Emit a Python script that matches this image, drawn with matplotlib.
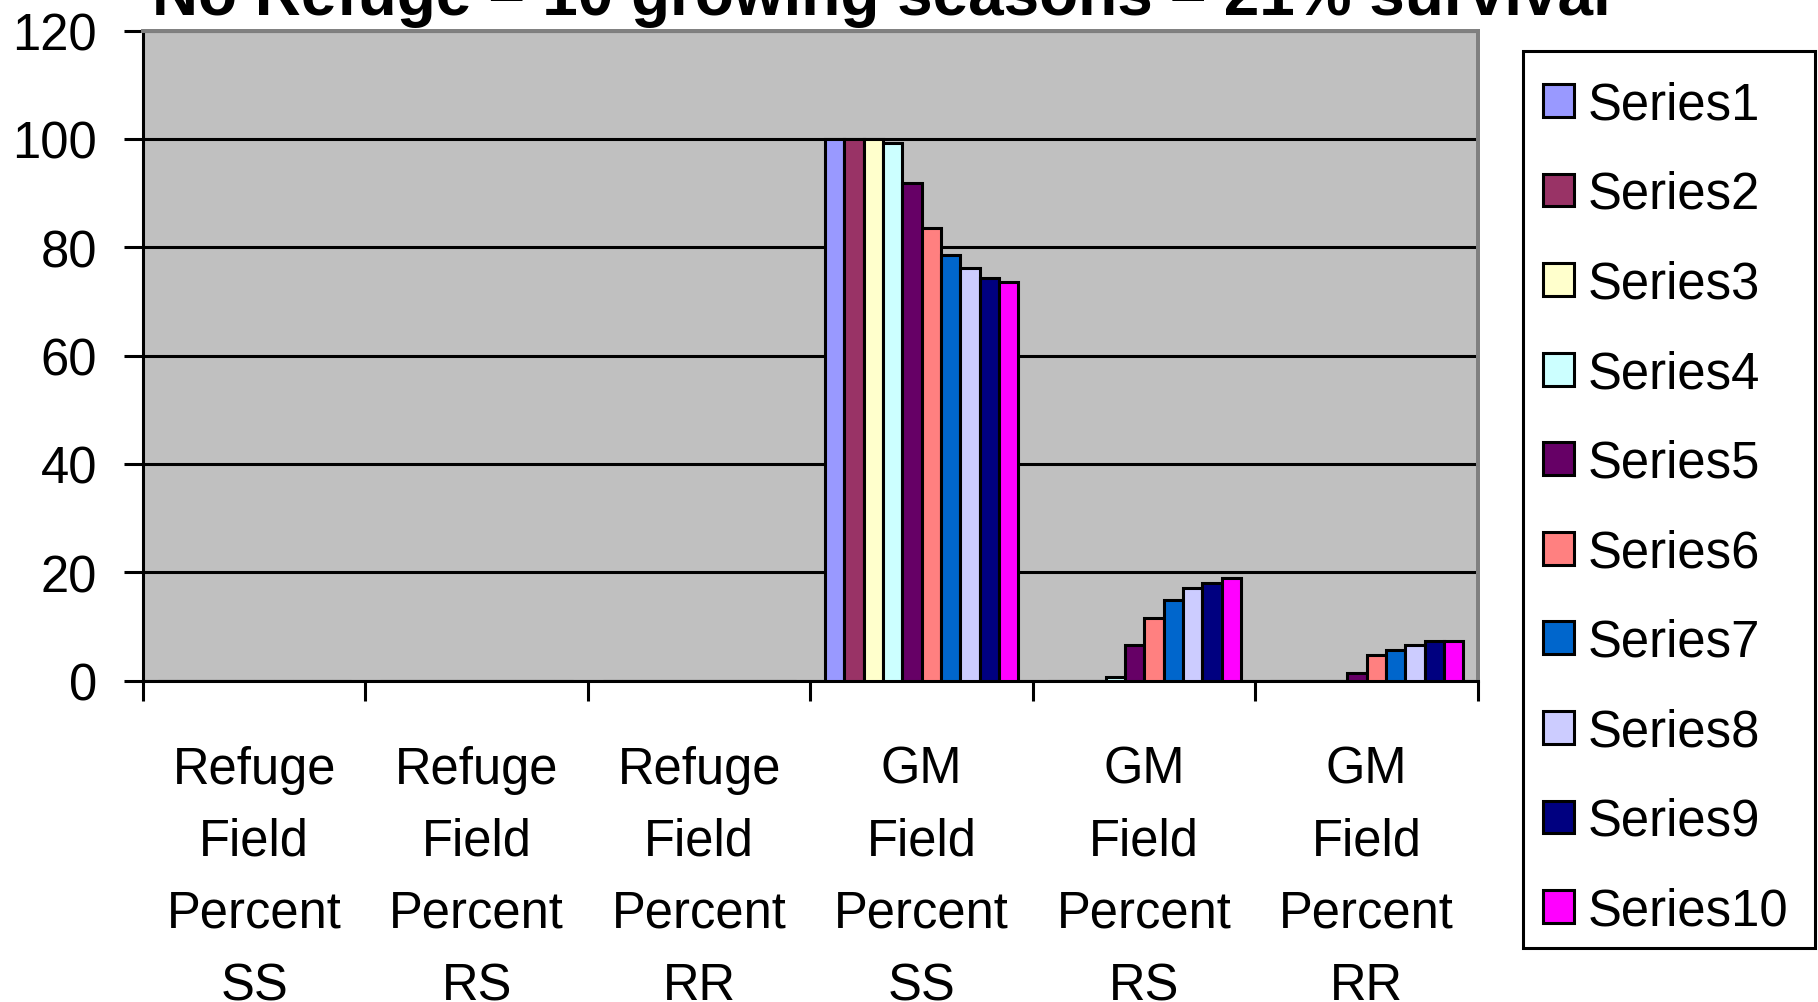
import numpy as np
import matplotlib
matplotlib.use('Agg')
from matplotlib import pyplot as plt
from matplotlib.patches import Rectangle

plt.rcParams['font.family'] = ['Liberation Sans', 'DejaVu Sans']

categories = ['Refuge\nField\nPercent\nSS', 'Refuge\nField\nPercent\nRS',
              'Refuge\nField\nPercent\nRR', 'GM\nField\nPercent\nSS',
              'GM\nField\nPercent\nRS', 'GM\nField\nPercent\nRR']
series_names = ['Series1', 'Series2', 'Series3', 'Series4', 'Series5',
                'Series6', 'Series7', 'Series8', 'Series9', 'Series10']
colors = ['#9999FF', '#993366', '#FFFFCC', '#CCFFFF', '#660066',
          '#FF8080', '#0066CC', '#CCCCFF', '#000080', '#FF00FF']

# rows = series (growing season), columns = categories
values = [
    [0, 0, 0, 100.0, 0.0, 0.0],
    [0, 0, 0, 100.0, 0.0, 0.0],
    [0, 0, 0, 100.0, 0.0, 0.0],
    [0, 0, 0, 99.2, 0.6, 0.0],
    [0, 0, 0, 91.8, 6.5, 1.5],
    [0, 0, 0, 83.5, 11.5, 4.8],
    [0, 0, 0, 78.5, 14.9, 5.6],
    [0, 0, 0, 76.1, 17.2, 6.5],
    [0, 0, 0, 74.4, 18.1, 7.4],
    [0, 0, 0, 73.6, 18.9, 7.4],
]
yticks = [0, 20, 40, 60, 80, 100, 120]
title = 'No Refuge \u2013 10 growing seasons \u2013 21% survival'

W, H = 1818, 1003
fig = plt.figure(figsize=(W / 100, H / 100), dpi=100)
ax = fig.add_axes([143 / W, (H - 681.7) / H, (1478 - 143) / W, (681.7 - 31.5) / H])
ax.set_facecolor('#C0C0C0')

lw = 2.2
group = 0.868
n = len(series_names)
bw = group / n
centers = np.arange(len(categories)) + 0.5
for i, (name, vals, c) in enumerate(zip(series_names, values, colors)):
    xs = centers - group / 2 + bw * (i + 0.5)
    ax.bar(xs, vals, width=bw, color=c, edgecolor='black', linewidth=lw,
           label=name, zorder=3)

ax.set_xlim(0, len(categories))
ax.set_ylim(0, 120)
ax.set_yticks(yticks)
ax.set_yticklabels([str(v) for v in yticks])
ax.yaxis.grid(True, color='black', linewidth=lw, zorder=1)
ax.set_axisbelow(True)

ax.set_xticks(centers)
ax.set_xticklabels(categories, linespacing=1.61, ha='center')
ax.set_xticks(np.arange(len(categories) + 1), minor=True)
ax.tick_params(axis='x', which='major', length=0, labelsize=36.5, pad=46)
ax.tick_params(axis='x', which='minor', length=14.4, width=lw, direction='out')
ax.tick_params(axis='y', length=13.7, width=lw, direction='out', labelsize=36.5, pad=19.4)

for s in ['left', 'bottom']:
    ax.spines[s].set_color('black')
    ax.spines[s].set_linewidth(lw)
for s in ['top', 'right']:
    ax.spines[s].set_color('#808080')
    ax.spines[s].set_linewidth(lw * 1.3)

fig.text(881.5 / W, 1 - 15 / H, title, ha='center', va='baseline',
         fontsize=46.0, fontweight='bold')

# legend entries without their own frame; box drawn separately
leg = fig.legend(loc='upper left', bbox_to_anchor=(1525 / W, 1 - 63.6 / H),
                 fontsize=36.5, frameon=False, borderpad=0.35,
                 labelspacing=0.80, handlelength=0.62, handleheight=0.62,
                 handletextpad=0.27, borderaxespad=0)
for p in leg.get_patches():
    p.set_linewidth(lw)
fig.patches.append(Rectangle((1523 / W, 1 - 949 / H), (1815 - 1523) / W,
                             (949 - 52) / H, transform=fig.transFigure,
                             facecolor='white', edgecolor='black',
                             linewidth=lw, zorder=0))

fig.savefig('out.png', dpi=100, facecolor='white')
